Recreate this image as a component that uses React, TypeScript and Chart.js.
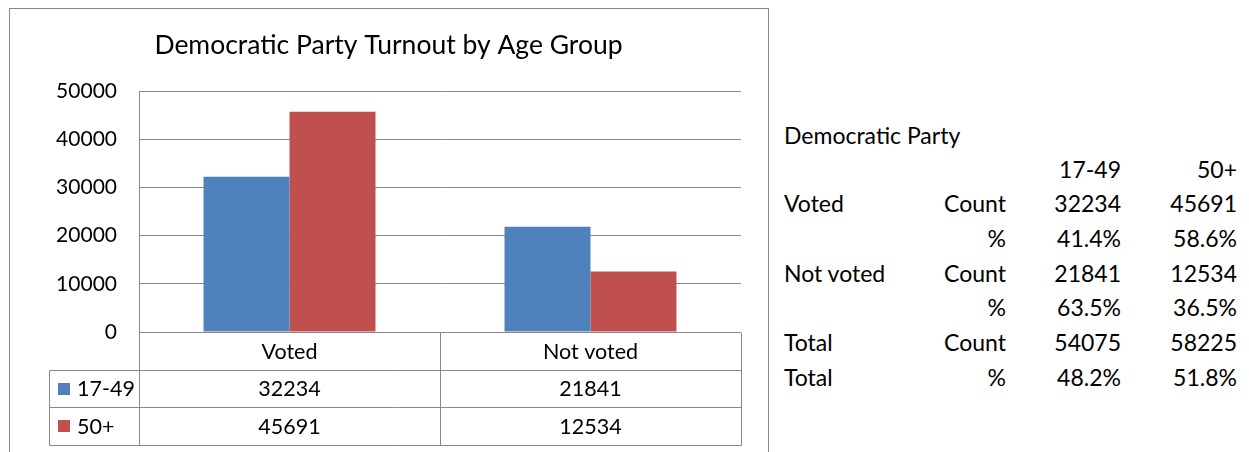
import React, { useEffect, useRef } from "react";
import { Chart, registerables } from "chart.js";

Chart.register(...registerables);

// ---- chart data ----
const categories = ["Voted", "Not voted"];
const seriesNames = ["17-49", "50+"];
const ageYoung = [32234, 21841];
const ageOld = [45691, 12534];
const yMax = 50000;
const yStep = 10000;
const chartTitle = "Democratic Party Turnout by Age Group";
const seriesColors = ["#4F81BD", "#C0504D"];

// ---- side table data ----
const sideTitle = "Democratic Party";
const sideRowLabels = ["Voted", "", "Not voted", "", "Total", "Total"];
const sideMeasures = ["Count", "%", "Count", "%", "Count", "%"];
const totalCounts = [54075, 58225];
const votedPct = ["41.4%", "58.6%"];
const notVotedPct = ["63.5%", "36.5%"];
const totalPct = ["48.2%", "51.8%"];

const FONT = "Lato";
const GRID = "#888888";
const TEXT = "#000000";

const CANVAS_W = 758;
const CANVAS_H = 443;
const OFF_X = 10;
const OFF_Y = 9;
const PAD_L = 26;
const PAD_R = CANVAS_W - (741 - OFF_X);

const seriesData = [ageYoung, ageOld];

const tablePlugin = {
  id: "dataTable",
  afterDraw(chart: any) {
    const { ctx, chartArea, scales } = chart;
    const xs = scales.x;
    const al = (v: number) => Math.round(v) + 0.5;
    const L = 49 - OFF_X;
    const left = chartArea.left;
    const right = chartArea.right;
    const b = chartArea.bottom;
    const rows = [b, b + 38, b + 75, b + 113];
    const divider = (xs.getPixelForValue(0) + xs.getPixelForValue(1)) / 2;

    ctx.save();
    ctx.strokeStyle = GRID;
    ctx.lineWidth = 1;
    ctx.beginPath();
    for (let i = 1; i < rows.length; i++) {
      ctx.moveTo(al(L), al(rows[i]));
      ctx.lineTo(al(right), al(rows[i]));
    }
    ctx.moveTo(al(L), al(rows[1]));
    ctx.lineTo(al(L), al(rows[3]));
    ctx.moveTo(al(left), al(b));
    ctx.lineTo(al(left), al(rows[3]));
    ctx.moveTo(al(divider), al(b));
    ctx.lineTo(al(divider), al(rows[3]));
    ctx.moveTo(al(right), al(b));
    ctx.lineTo(al(right), al(rows[3]));
    ctx.stroke();

    ctx.fillStyle = TEXT;
    ctx.font = `21.5px ${FONT}`;
    ctx.textBaseline = "middle";
    ctx.textAlign = "center";
    categories.forEach((c, i) => {
      const cx = xs.getPixelForValue(i);
      ctx.fillText(c, cx, (rows[0] + rows[1]) / 2 + 1);
      seriesData.forEach((s, j) => {
        ctx.fillText(String(s[i]), cx, (rows[j + 1] + rows[j + 2]) / 2 + 1);
      });
    });
    ctx.textAlign = "left";
    seriesNames.forEach((n, j) => {
      const cy = (rows[j + 1] + rows[j + 2]) / 2;
      ctx.fillStyle = seriesColors[j];
      ctx.fillRect(58 - OFF_X, Math.round(cy) - 6, 12, 12);
      ctx.fillStyle = TEXT;
      ctx.fillText(n, 77 - OFF_X, cy + 1);
    });
    ctx.restore();
  },
};

function SideTable() {
  const rowY = [203, 238, 273, 307, 342, 377];
  const cells: React.ReactNode[] = [];
  const lh = 26;
  const base: React.CSSProperties = {
    position: "absolute",
    font: `23px ${FONT}`,
    color: TEXT,
    lineHeight: `${lh}px`,
    whiteSpace: "nowrap",
  };
  const rightCell = (key: string, text: string, rx: number, cy: number) => (
    <div key={key} style={{ ...base, left: rx - 200, width: 200, textAlign: "right", top: cy - lh / 2 }}>
      {text}
    </div>
  );
  const leftCell = (key: string, text: string, lx: number, cy: number) => (
    <div key={key} style={{ ...base, left: lx, top: cy - lh / 2 }}>
      {text}
    </div>
  );
  cells.push(leftCell("t", sideTitle, 784, 135));
  cells.push(rightCell("h0", seriesNames[0], 1121, 169));
  cells.push(rightCell("h1", seriesNames[1], 1237, 169));
  const colVals = [
    [String(ageYoung[0]), votedPct[0], String(ageYoung[1]), notVotedPct[0], String(totalCounts[0]), totalPct[0]],
    [String(ageOld[0]), votedPct[1], String(ageOld[1]), notVotedPct[1], String(totalCounts[1]), totalPct[1]],
  ];
  rowY.forEach((y, i) => {
    if (sideRowLabels[i]) cells.push(leftCell(`l${i}`, sideRowLabels[i], 784, y));
    cells.push(rightCell(`m${i}`, sideMeasures[i], 1006, y));
    cells.push(rightCell(`a${i}`, colVals[0][i], 1121, y));
    cells.push(rightCell(`b${i}`, colVals[1][i], 1237, y));
  });
  return <>{cells}</>;
}

export default function App() {
  const ref = useRef<HTMLCanvasElement | null>(null);

  useEffect(() => {
    if (!ref.current) return;
    const chart = new Chart(ref.current, {
      type: "bar",
      data: {
        labels: categories,
        datasets: seriesNames.map((n, j) => ({
          label: n,
          data: seriesData[j],
          backgroundColor: seriesColors[j],
          borderWidth: 0,
          categoryPercentage: 0.5714,
          barPercentage: 1,
        })),
      },
      options: {
        animation: false,
        responsive: false,
        devicePixelRatio: 1,
        layout: { padding: { left: PAD_L, right: PAD_R, top: 0, bottom: 0 } },
        plugins: {
          legend: { display: false },
          tooltip: { enabled: false },
          title: {
            display: true,
            text: chartTitle,
            color: TEXT,
            font: { family: FONT, size: 26.5, weight: "normal", lineHeight: 1.2 },
            padding: { top: 20.1, bottom: 30.1 },
          },
        },
        scales: {
          x: {
            ticks: { display: false },
            grid: { display: false },
            border: { display: false },
            afterFit: (s: any) => {
              s.height = CANVAS_H - (332 - OFF_Y);
            },
          },
          y: {
            min: 0,
            max: yMax,
            ticks: {
              stepSize: yStep,
              padding: 22,
              color: TEXT,
              font: { family: FONT, size: 21 },
              callback: (v: any) => String(v),
            },
            grid: { color: GRID, drawTicks: false, lineWidth: 1 },
            border: { display: true, color: GRID, width: 1 },
            afterFit: (s: any) => {
              s.width = 139 - OFF_X - PAD_L;
            },
          },
        },
      },
      plugins: [tablePlugin],
    });
    return () => chart.destroy();
  }, []);

  return (
    <div>
      <div
        style={{
          position: "absolute",
          left: 9,
          top: 8,
          width: CANVAS_W,
          height: CANVAS_H,
          borderLeft: `1px solid ${GRID}`,
          borderTop: `1px solid ${GRID}`,
          borderRight: `1px solid ${GRID}`,
          background: "#fff",
        }}
      >
        <canvas ref={ref} width={CANVAS_W} height={CANVAS_H} style={{ display: "block", width: CANVAS_W, height: CANVAS_H }} />
      </div>
      <SideTable />
    </div>
  );
}
